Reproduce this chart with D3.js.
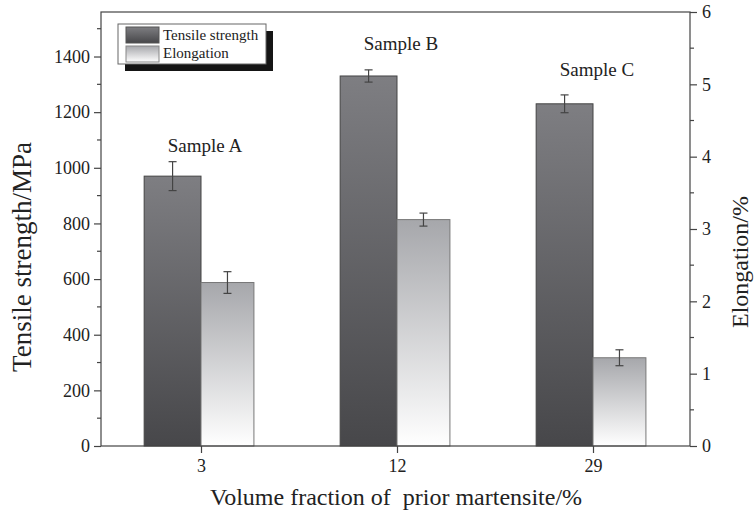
<!DOCTYPE html>
<html>
<head>
<meta charset="utf-8">
<title>tensile / elongation</title>
<script src="https://cdn.jsdelivr.net/npm/d3@7"></script>
<style>
body{margin:0;background:#fff;}
</style>
</head>
<body>
<script>
// data
var fractions = ["3", "12", "29"];
var samples = ["Sample A", "Sample B", "Sample C"];
var tensile = [970, 1330, 1230];
var tensileErr = [52, 22, 32];
var elongation = [2.26, 3.13, 1.22];
var elongationErr = [0.15, 0.09, 0.11];
var labelY = [1057, 1424, 1331]; // MPa height of the sample labels
var leftTicks = [0, 200, 400, 600, 800, 1000, 1200, 1400];
var rightTicks = [0, 1, 2, 3, 4, 5, 6];

var FONT = "'Liberation Serif', 'Times New Roman', serif";
var width = 755, height = 519;
var L = 101, R = 690, T = 12, B = 446;

var svg = d3.select("body").append("svg")
  .attr("width", width).attr("height", height);

var defs = svg.append("defs");
var g1 = defs.append("linearGradient").attr("id", "gTen").attr("x1", 0).attr("y1", 0).attr("x2", 0).attr("y2", 1);
g1.append("stop").attr("offset", "0%").attr("stop-color", "#7e7e82");
g1.append("stop").attr("offset", "100%").attr("stop-color", "#47474a");
var g2 = defs.append("linearGradient").attr("id", "gEl").attr("x1", 0).attr("y1", 0).attr("x2", 0).attr("y2", 1);
g2.append("stop").attr("offset", "0%").attr("stop-color", "#a6a7ab");
g2.append("stop").attr("offset", "100%").attr("stop-color", "#ffffff");

var x = d3.scaleBand().domain(fractions).range([103, 691]);
var yL = d3.scaleLinear().domain([0, 1560]).range([B, T]);
var yR = d3.scaleLinear().domain([0, 6]).range([B, T]);

var wTen = x.bandwidth() * 0.29, wEl = x.bandwidth() * 0.27;
function cx(d){ return x(d) + x.bandwidth() / 2; }

// bars
svg.selectAll("rect.ten").data(fractions).enter().append("rect")
  .attr("class", "ten")
  .attr("x", function(d){ return cx(d) - wTen; })
  .attr("y", function(d, i){ return yL(tensile[i]); })
  .attr("width", wTen)
  .attr("height", function(d, i){ return B - yL(tensile[i]); })
  .attr("fill", "url(#gTen)").attr("stroke", "#444").attr("stroke-width", 1);

svg.selectAll("rect.el").data(fractions).enter().append("rect")
  .attr("class", "el")
  .attr("x", function(d){ return cx(d); })
  .attr("y", function(d, i){ return yR(elongation[i]); })
  .attr("width", wEl)
  .attr("height", function(d, i){ return B - yR(elongation[i]); })
  .attr("fill", "url(#gEl)").attr("stroke", "#777").attr("stroke-width", 1);

// error bars
function errBars(cls, vals, errs, scale, off){
  var g = svg.selectAll("g." + cls).data(fractions).enter().append("g")
    .attr("class", cls).attr("stroke", "#444").attr("stroke-width", 1.2);
  g.append("line")
    .attr("x1", function(d){ return cx(d) + off; }).attr("x2", function(d){ return cx(d) + off; })
    .attr("y1", function(d, i){ return scale(vals[i] + errs[i]); })
    .attr("y2", function(d, i){ return scale(vals[i] - errs[i]); });
  [1, -1].forEach(function(s){
    g.append("line")
      .attr("x1", function(d){ return cx(d) + off - 4; }).attr("x2", function(d){ return cx(d) + off + 4; })
      .attr("y1", function(d, i){ return scale(vals[i] + s * errs[i]); })
      .attr("y2", function(d, i){ return scale(vals[i] + s * errs[i]); });
  });
}
errBars("eT", tensile, tensileErr, yL, -wTen / 2);
errBars("eE", elongation, elongationErr, yR, wEl / 2);

// sample labels
svg.selectAll("text.smp").data(samples).enter().append("text")
  .attr("class", "smp")
  .attr("x", function(d, i){ return cx(fractions[i]) + 4; })
  .attr("y", function(d, i){ return yL(labelY[i]); })
  .attr("text-anchor", "middle").attr("font-size", 19)
  .text(function(d){ return d; });

// frame + axes
var ax = svg.append("g").attr("stroke", "#444").attr("stroke-width", 1.2).attr("fill", "none");
ax.append("rect").attr("x", L).attr("y", T).attr("width", R - L).attr("height", B - T);

var leftAxis = d3.axisLeft(yL).tickValues(leftTicks).tickSize(7).tickPadding(4).tickFormat(d3.format("d"));
var gl = svg.append("g").attr("transform", "translate(" + L + ",0)").call(leftAxis);
var leftMinor = d3.range(100, 1600, 200);
gl.selectAll("line.minor").data(leftMinor).enter().append("line").attr("class", "minor")
  .attr("x1", -4).attr("x2", 0).attr("y1", yL).attr("y2", yL);

var rightAxis = d3.axisRight(yR).tickValues(rightTicks).tickSize(7).tickPadding(5).tickFormat(d3.format("d"));
var gr = svg.append("g").attr("transform", "translate(" + R + ",0)").call(rightAxis);
gr.selectAll("line.minor").data([0.5, 1.5, 2.5, 3.5, 4.5, 5.5]).enter().append("line").attr("class", "minor")
  .attr("x1", 0).attr("x2", 4).attr("y1", yR).attr("y2", yR);

var xAxis = d3.axisBottom(d3.scalePoint().domain(fractions).range([cx("3"), cx("29")]))
  .tickSize(7).tickPadding(6);
var gx = svg.append("g").attr("transform", "translate(0," + B + ")").call(xAxis);

[gl, gr, gx].forEach(function(g){
  g.attr("font-family", null);
  g.select(".domain").remove();
  g.selectAll("line").attr("stroke", "#444").attr("stroke-width", 1.2);
  g.selectAll("text").attr("font-size", 18).attr("fill", "#222");
});

// axis titles
svg.append("text").attr("transform", "translate(31,257) rotate(-90)")
  .attr("text-anchor", "middle").attr("font-size", 27).text("Tensile strength/MPa");
svg.append("text").attr("transform", "translate(748,262) rotate(-90)")
  .attr("text-anchor", "middle").attr("font-size", 24).text("Elongation/%");
svg.append("text").attr("x", 396).attr("y", 505)
  .attr("text-anchor", "middle").attr("font-size", 24)
  .style("white-space", "pre").text("Volume fraction of  prior martensite/%");

// legend
var lg = svg.append("g");
lg.append("rect").attr("x", 125).attr("y", 31).attr("width", 148).attr("height", 40).attr("fill", "#151515");
lg.append("rect").attr("x", 118).attr("y", 24).attr("width", 148).attr("height", 40)
  .attr("fill", "#fff").attr("stroke", "#666").attr("stroke-width", 1);
var legendItems = [["Tensile strength", "url(#gTen)", "#555"], ["Elongation", "url(#gEl)", "#888"]];
legendItems.forEach(function(it, i){
  lg.append("rect").attr("x", 126).attr("y", 27 + i * 19).attr("width", 33).attr("height", 16)
    .attr("fill", it[1]).attr("stroke", it[2]);
  lg.append("text").attr("x", 163).attr("y", 40 + i * 18).attr("font-size", 15).text(it[0]);
});

svg.selectAll("text").style("font-family", FONT).style("fill", "#222");
</script>
</body>
</html>
